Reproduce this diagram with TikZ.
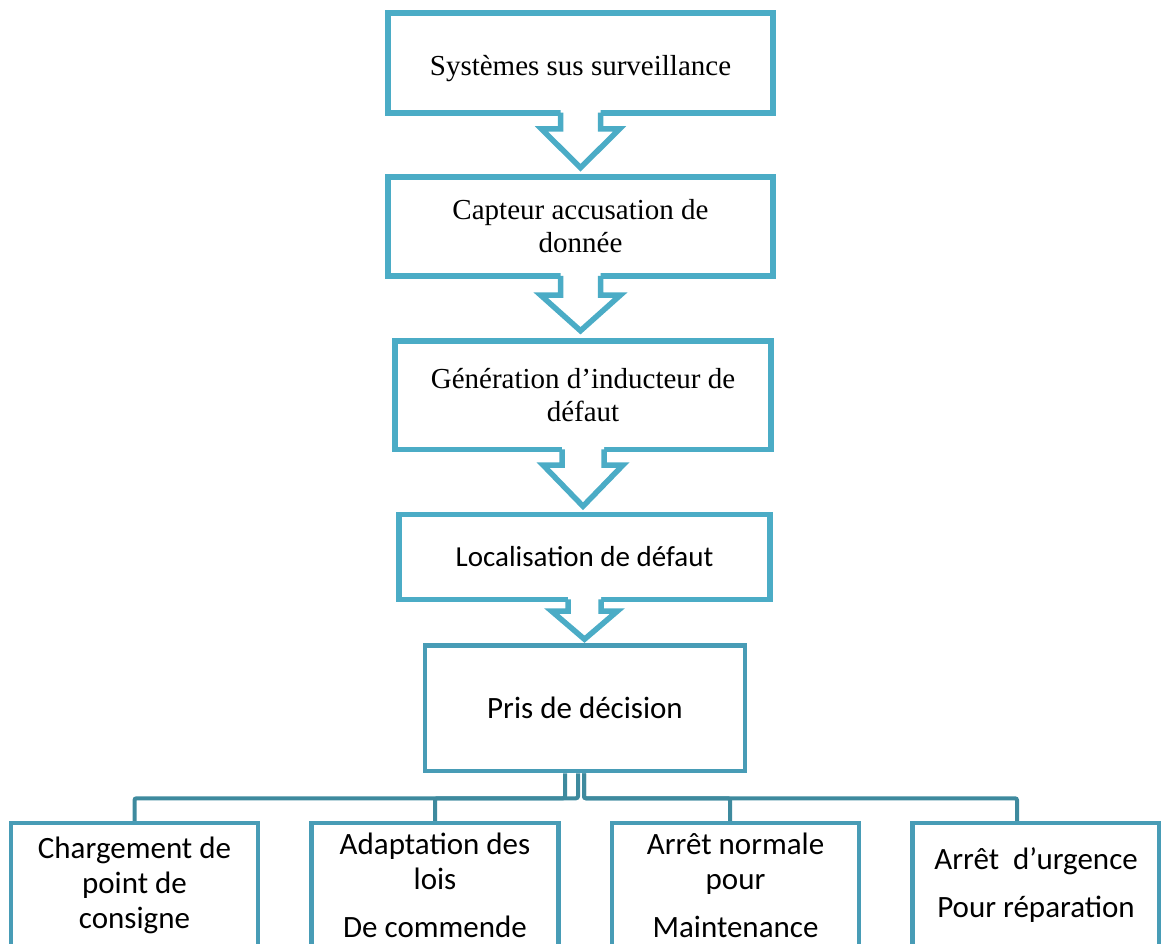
\documentclass[tikz,border=0pt]{standalone}
\usepackage{fontspec}
\setmainfont{Liberation Serif}
\newfontfamily\calibri{Carlito}
\definecolor{boxblue}{RGB}{75,172,198}
\definecolor{boxteal}{RGB}{72,156,182}
\definecolor{linkteal}{RGB}{62,138,158}
\usetikzlibrary{positioning}
\tikzset{
  % hollow down arrow hanging under a box: shaft, head, neck, tip
  pics/blockarrow/.style args={#1,#2,#3,#4}{
    code={
      \fill [white] (-#1,-6) -- (-#1,#3) -- (-#2,#3) -- (0,#4) -- (#2,#3) -- (#1,#3) -- (#1,-6) -- cycle;
      \path [pic actions] (-#1,-3) -- (-#1,#3) -- (-#2,#3) -- (0,#4) -- (#2,#3) -- (#1,#3) -- (#1,-3);
    }
  },
  stepbox/.style={draw=boxblue, line width=5.5pt, fill=white, align=center, inner sep=0pt,
    font=\fontsize{29}{33}\selectfont},
  leafbox/.style={draw=boxteal, line width=4.5pt, fill=white, align=center, inner sep=0pt,
    minimum width=247pt, minimum height=124pt, font=\calibri\fontsize{31}{35}\selectfont},
  link/.style={draw=linkteal, line width=4pt, rounded corners=2pt}
}

\begin{document}
\begin{tikzpicture}[x=1pt, y=-1pt]

  \useasboundingbox (0,0) rectangle (1161,944);
  \clip (0,0) rectangle (1161,944);

  \node [stepbox, minimum width=385pt, minimum height=100pt, text height=32pt] (surv) at (580.5,63) {Systèmes sus surveillance};
  \node [stepbox, minimum width=385pt, minimum height=99pt, below=58.5pt of surv] (capt) {Capteur accusation de\\donnée};
  \node [stepbox, minimum width=376pt, minimum height=108.5pt, below=59.5pt of capt, xshift=2.5pt] (gen) {Génération d’inducteur de\\défaut};
  \node [stepbox, minimum width=371pt, minimum height=85pt, below=59.5pt of gen, xshift=1.5pt, font=\calibri\fontsize{29}{33}\selectfont] (loc) {Localisation de défaut};
  \node [stepbox, draw=boxteal, line width=4.5pt, minimum width=320pt, minimum height=125.5pt, below=41pt of loc, xshift=0.5pt, font=\calibri\fontsize{31}{35}\selectfont] (decide) {Pris de décision};

  \pic [draw=boxblue, line width=5.5pt] at (surv.south) {blockarrow={20,39,13.25,52}};
  \pic [draw=boxblue, line width=5.5pt] at (capt.south) {blockarrow={20,40,16.25,52}};
  \pic [draw=boxblue, line width=5.5pt] at (gen.south) {blockarrow={21,40,12.75,54}};
  \pic [draw=boxblue, line width=5.5pt] at (loc.south) {blockarrow={16.5,33,8.75,37}};

  \node [leafbox] (chg) at (134.5,885) {Chargement de\\point de\\consigne};
  \node [leafbox, right=49pt of chg] (adapt) {Adaptation des\\lois\\[13pt]De commende};
  \node [leafbox, right=49pt of adapt] (arret) {Arrêt normale\\pour\\[13pt]Maintenance};
  \node [leafbox, right=49pt of arret] (urg) {Arrêt~~d’urgence\\[13pt]Pour réparation};

  \draw [link] ([xshift=-20pt]decide.south) -- ++(0,25) -| (chg.north);
  \draw [link] ([xshift=-7pt]decide.south) -- ++(0,25) -| (adapt.north);
  \draw [link] ([xshift=-1pt]decide.south) -- ++(0,25) -| ([xshift=-5.5pt]arret.north);
  \draw [link] ([xshift=-1pt]decide.south) -- ++(0,25) -| ([xshift=-19pt]urg.north);

\end{tikzpicture}
\end{document}
